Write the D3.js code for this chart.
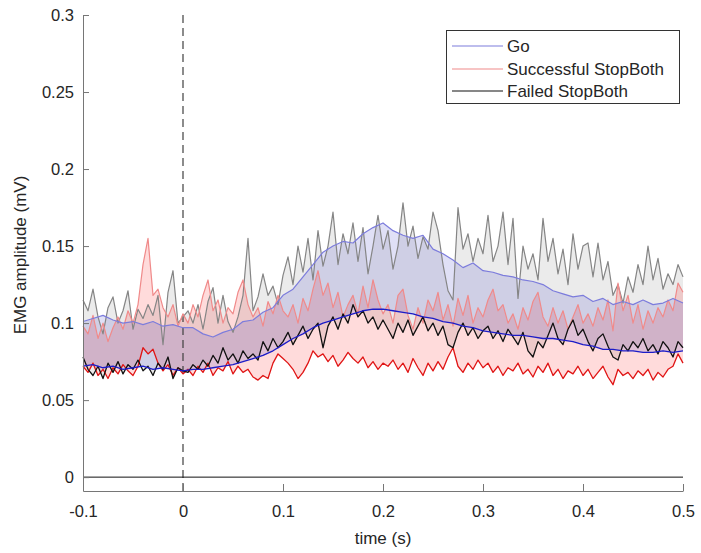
<!DOCTYPE html>
<html>
<head>
<meta charset="utf-8">
<script src="https://cdnjs.cloudflare.com/ajax/libs/d3/7.8.5/d3.min.js"></script>
<style>
  body { margin: 0; background: #fff; }
  svg text { font-family: "Liberation Sans", Arial, sans-serif; fill: #262626; }
</style>
</head>
<body>
<div class="svg"></div>
<script>
// sample times: coarse grid for the Go traces, fine grid for the Stop traces
var timeCoarse = d3.range(61).map(function (i) { return -0.1 + i * 0.01; });
var timeFine = d3.range(121).map(function (i) { return -0.1 + i * 0.005; });

var xTicks = [-0.1, 0, 0.1, 0.2, 0.3, 0.4, 0.5];
var yTicks = [0, 0.05, 0.1, 0.15, 0.2, 0.25, 0.3];
var legendLabels = ['Go', 'Successful StopBoth', 'Failed StopBoth'];

// Go (blue), lower and upper trace
var goLow = [
  0.072, 0.073, 0.071, 0.072, 0.070, 0.071, 0.072, 0.070, 0.071, 0.070,
  0.069, 0.070, 0.070, 0.071, 0.072, 0.073, 0.075, 0.077, 0.079, 0.082,
  0.086, 0.090, 0.093, 0.097, 0.100, 0.102, 0.104, 0.106, 0.108, 0.109,
  0.109, 0.108, 0.107, 0.106, 0.104, 0.103, 0.101, 0.100, 0.098, 0.097,
  0.095, 0.094, 0.093, 0.092, 0.092, 0.091, 0.090, 0.090, 0.089, 0.088,
  0.086, 0.085, 0.083, 0.083, 0.082, 0.082, 0.081, 0.081, 0.082, 0.081,
  0.082
];
var goHigh = [
  0.101, 0.103, 0.105, 0.102, 0.100, 0.101, 0.099, 0.101, 0.098, 0.099,
  0.097, 0.097, 0.093, 0.091, 0.094, 0.096, 0.101, 0.102, 0.107, 0.110,
  0.118, 0.122, 0.130, 0.138, 0.146, 0.150, 0.153, 0.152, 0.158, 0.162,
  0.165, 0.160, 0.157, 0.155, 0.157, 0.148, 0.145, 0.141, 0.136, 0.139,
  0.134, 0.133, 0.131, 0.130, 0.128, 0.127, 0.125, 0.121, 0.119, 0.117,
  0.118, 0.114, 0.116, 0.112, 0.114, 0.112, 0.115, 0.112, 0.113, 0.116,
  0.113
];

// Successful StopBoth (red), lower and upper trace
var successLow = [
  0.072, 0.068, 0.074, 0.066, 0.070, 0.064, 0.071, 0.067, 0.073, 0.069,
  0.066, 0.072, 0.084, 0.080, 0.083, 0.074, 0.069, 0.073, 0.066, 0.071,
  0.067, 0.070, 0.066, 0.072, 0.068, 0.074, 0.066, 0.071, 0.069, 0.075,
  0.067, 0.072, 0.068, 0.070, 0.065, 0.063, 0.066, 0.064, 0.074, 0.080,
  0.077, 0.074, 0.070, 0.064, 0.068, 0.074, 0.082, 0.078, 0.080, 0.075,
  0.079, 0.072, 0.076, 0.081, 0.077, 0.074, 0.078, 0.071, 0.075, 0.070,
  0.074, 0.072, 0.076, 0.070, 0.074, 0.068, 0.077, 0.071, 0.066, 0.074,
  0.069, 0.075, 0.070, 0.078, 0.084, 0.072, 0.068, 0.074, 0.070, 0.076,
  0.071, 0.074, 0.068, 0.072, 0.066, 0.071, 0.069, 0.074, 0.067, 0.070,
  0.065, 0.072, 0.068, 0.074, 0.066, 0.070, 0.064, 0.069, 0.067, 0.072,
  0.066, 0.070, 0.064, 0.068, 0.072, 0.065, 0.060, 0.070, 0.066, 0.068,
  0.064, 0.069, 0.066, 0.070, 0.063, 0.068, 0.065, 0.070, 0.072, 0.080,
  0.074
];
var successHigh = [
  0.098, 0.093, 0.105, 0.090, 0.100, 0.088, 0.097, 0.104, 0.096, 0.108,
  0.100, 0.112, 0.138, 0.155, 0.118, 0.122, 0.110, 0.104, 0.112, 0.098,
  0.106, 0.100, 0.112, 0.104, 0.118, 0.128, 0.108, 0.115, 0.100, 0.110,
  0.106, 0.120, 0.128, 0.112, 0.104, 0.110, 0.098, 0.114, 0.106, 0.118,
  0.108, 0.104, 0.112, 0.100, 0.116, 0.108, 0.122, 0.134, 0.118, 0.126,
  0.110, 0.120, 0.104, 0.112, 0.118, 0.106, 0.124, 0.110, 0.128, 0.115,
  0.106, 0.112, 0.100, 0.118, 0.122, 0.105, 0.096, 0.110, 0.100, 0.115,
  0.108, 0.120, 0.102, 0.112, 0.098, 0.116, 0.105, 0.118, 0.100, 0.110,
  0.104, 0.115, 0.122, 0.108, 0.112, 0.100, 0.106, 0.096, 0.110, 0.102,
  0.114, 0.120, 0.104, 0.098, 0.110, 0.100, 0.108, 0.096, 0.104, 0.112,
  0.100, 0.106, 0.098, 0.110, 0.102, 0.115, 0.095, 0.126, 0.108, 0.118,
  0.100, 0.112, 0.096, 0.108, 0.100, 0.110, 0.104, 0.115, 0.108, 0.126,
  0.120
];

// Failed StopBoth (black), lower and upper trace
var failedLow = [
  0.078, 0.070, 0.066, 0.072, 0.064, 0.074, 0.068, 0.075, 0.067, 0.073,
  0.070, 0.076, 0.069, 0.072, 0.066, 0.074, 0.070, 0.078, 0.064, 0.071,
  0.069, 0.068, 0.073, 0.070, 0.076, 0.072, 0.079, 0.074, 0.084, 0.076,
  0.080, 0.074, 0.082, 0.077, 0.080, 0.076, 0.088, 0.082, 0.090, 0.084,
  0.088, 0.094, 0.086, 0.092, 0.098, 0.090, 0.096, 0.100, 0.084, 0.098,
  0.104, 0.096, 0.106, 0.100, 0.112, 0.104, 0.108, 0.100, 0.104, 0.096,
  0.102, 0.096, 0.090, 0.100, 0.094, 0.102, 0.092, 0.098, 0.104, 0.095,
  0.100, 0.092, 0.098, 0.086, 0.084, 0.094, 0.100, 0.092, 0.097, 0.090,
  0.095, 0.098, 0.090, 0.095, 0.088, 0.096, 0.091, 0.086, 0.094, 0.082,
  0.078, 0.088, 0.084, 0.092, 0.100, 0.090, 0.086, 0.096, 0.102, 0.092,
  0.096, 0.088, 0.082, 0.090, 0.093, 0.085, 0.078, 0.076, 0.086, 0.082,
  0.088, 0.084, 0.090, 0.082, 0.086, 0.080, 0.088, 0.084, 0.078, 0.088,
  0.084
];
var failedHigh = [
  0.115, 0.108, 0.122, 0.104, 0.093, 0.110, 0.117, 0.100, 0.108, 0.121,
  0.096, 0.109, 0.103, 0.112, 0.105, 0.118, 0.086, 0.120, 0.134, 0.100,
  0.104, 0.108, 0.100, 0.112, 0.096, 0.114, 0.123, 0.100, 0.118, 0.101,
  0.094, 0.104, 0.118, 0.155, 0.108, 0.117, 0.132, 0.118, 0.124, 0.112,
  0.131, 0.143, 0.125, 0.150, 0.133, 0.155, 0.128, 0.160, 0.137, 0.150,
  0.172, 0.138, 0.158, 0.145, 0.165, 0.140, 0.162, 0.132, 0.150, 0.170,
  0.148, 0.160, 0.135, 0.150, 0.178, 0.150, 0.163, 0.142, 0.156, 0.148,
  0.172, 0.160, 0.138, 0.121, 0.115, 0.175, 0.148, 0.158, 0.140, 0.155,
  0.145, 0.170, 0.140, 0.150, 0.172, 0.138, 0.168, 0.116, 0.150, 0.135,
  0.145, 0.128, 0.168, 0.140, 0.155, 0.132, 0.148, 0.125, 0.158, 0.135,
  0.150, 0.152, 0.130, 0.152, 0.128, 0.140, 0.118, 0.125, 0.113, 0.130,
  0.120, 0.138, 0.125, 0.150, 0.128, 0.142, 0.122, 0.132, 0.125, 0.138,
  0.130
];

$ready(function () {
  var draw = new d3Draw({
    'svg_width': 701,
    'svg_height': 553
  });
});

function $ready(fn) {
  if (document.readyState !== 'loading') { fn(); } else { document.addEventListener('DOMContentLoaded', fn); }
}

function d3Draw(settings) {
  var k;
  for (k in d3Draw.defaults) { this[k] = d3Draw.defaults[k]; }
  for (k in settings) { this[k] = settings[k]; }
  this.appendSvg('div.svg');
  this.makeScales();
  this.drawBands();
  this.drawZeroLines();
  this.drawTraces();
  this.drawAxes();
  this.drawLegend();
}

d3Draw.defaults = {
  'svg_height': 400,
  'svg_width': 200,
  'left': 83,
  'right': 683,
  'top': 15,
  'bottom': 491
};

d3Draw.prototype.appendSvg = function (selector) {
  this.svg = d3.select(selector || 'body')
    .append('svg')
    .attr('width', this.svg_width)
    .attr('height', this.svg_height);
  this.svg.append('rect')
    .attr('width', this.svg_width)
    .attr('height', this.svg_height)
    .attr('fill', '#fff');
};

d3Draw.prototype.makeScales = function () {
  this.x = d3.scaleLinear().domain([-0.1, 0.5]).range([this.left, this.right]);
  this.y = d3.scaleLinear().domain([-0.009, 0.3]).range([this.bottom, this.top]);
};

d3Draw.prototype.drawBands = function () {
  var x = this.x, y = this.y;
  function band(times, low, high) {
    return d3.area()
      .x(function (d, i) { return x(times[i]); })
      .y0(function (d, i) { return y(low[i]); })
      .y1(function (d, i) { return y(high[i]); })(low);
  }
  var g = this.svg.append('g');
  g.append('path').attr('d', band(timeFine, failedLow, failedHigh))
    .attr('fill', '#808080').attr('fill-opacity', 0.16);
  g.append('path').attr('d', band(timeFine, successLow, successHigh))
    .attr('fill', '#ff0000').attr('fill-opacity', 0.14);
  g.append('path').attr('d', band(timeCoarse, goLow, goHigh))
    .attr('fill', '#3030c0').attr('fill-opacity', 0.15);
};

d3Draw.prototype.drawZeroLines = function () {
  var x = this.x, y = this.y;
  // stop signal onset
  this.svg.append('line')
    .attr('x1', x(0)).attr('x2', x(0))
    .attr('y1', this.top).attr('y2', this.bottom)
    .attr('stroke', '#404040').attr('stroke-width', 1.2)
    .attr('stroke-dasharray', '8,5');
  this.svg.append('line')
    .attr('x1', this.left).attr('x2', this.right)
    .attr('y1', y(0)).attr('y2', y(0))
    .attr('stroke', '#111').attr('stroke-width', 1);
};

d3Draw.prototype.drawTraces = function () {
  var x = this.x, y = this.y, svg = this.svg;
  function trace(times, vals, color, w) {
    var line = d3.line()
      .x(function (d, i) { return x(times[i]); })
      .y(function (d) { return y(d); });
    svg.append('path')
      .attr('d', line(vals))
      .attr('fill', 'none')
      .attr('stroke', color)
      .attr('stroke-width', w)
      .attr('stroke-linejoin', 'round');
  }
  trace(timeFine, failedHigh, '#858585', 1.2);
  trace(timeFine, successHigh, '#f08a8a', 1.2);
  trace(timeCoarse, goHigh, '#7c7cdc', 1.2);
  trace(timeFine, successLow, '#e01414', 1.3);
  trace(timeFine, failedLow, '#111111', 1.3);
  trace(timeCoarse, goLow, '#1c1cc8', 1.3);
};

d3Draw.prototype.drawAxes = function () {
  var fmt = function (d) { return String(+d.toFixed(2)); };
  var gy = this.svg.append('g')
    .attr('transform', 'translate(' + this.left + ',0)')
    .call(d3.axisLeft(this.y).tickValues(yTicks).tickFormat(fmt)
      .tickSizeInner(-6).tickSizeOuter(0).tickPadding(9));
  var gx = this.svg.append('g')
    .attr('transform', 'translate(0,' + this.bottom + ')')
    .call(d3.axisBottom(this.x).tickValues(xTicks).tickFormat(fmt)
      .tickSizeInner(-7).tickSizeOuter(0).tickPadding(14));
  [gy, gx].forEach(function (g) {
    g.select('.domain').attr('stroke', '#767676');
    g.selectAll('.tick line').attr('stroke', '#767676');
    g.selectAll('.tick text').attr('font-size', '16.5px').attr('fill', '#262626')
      .attr('font-family', '"Liberation Sans", Arial, sans-serif');
  });

  this.svg.append('text')
    .attr('transform', 'translate(26,' + ((this.top + this.bottom) / 2 + 2) + ') rotate(-90)')
    .attr('text-anchor', 'middle')
    .attr('font-size', '17px')
    .text('EMG amplitude (mV)');
  this.svg.append('text')
    .attr('x', (this.left + this.right) / 2)
    .attr('y', 544)
    .attr('text-anchor', 'middle')
    .attr('font-size', '17px')
    .text('time (s)');
};

d3Draw.prototype.drawLegend = function () {
  var colors = ['#7c7cdc', '#f08a8a', '#111111'];
  var rows = [46, 69, 91];
  var g = this.svg.append('g');
  g.append('rect')
    .attr('x', 446.5).attr('y', 30.5)
    .attr('width', 233).attr('height', 73)
    .attr('fill', '#fff').attr('stroke', '#333').attr('stroke-width', 1);
  var item = g.selectAll('g.item')
    .data(legendLabels)
    .enter()
    .append('g')
    .attr('class', 'item');
  item.append('line')
    .attr('x1', 452).attr('x2', 503)
    .attr('y1', function (d, i) { return rows[i]; })
    .attr('y2', function (d, i) { return rows[i]; })
    .attr('stroke', function (d, i) { return colors[i]; })
    .attr('stroke-width', 1.2);
  item.append('text')
    .attr('x', 507)
    .attr('y', function (d, i) { return rows[i] + 6; })
    .attr('font-size', '17px')
    .text(function (d) { return d; });
};
</script>
</body>
</html>
